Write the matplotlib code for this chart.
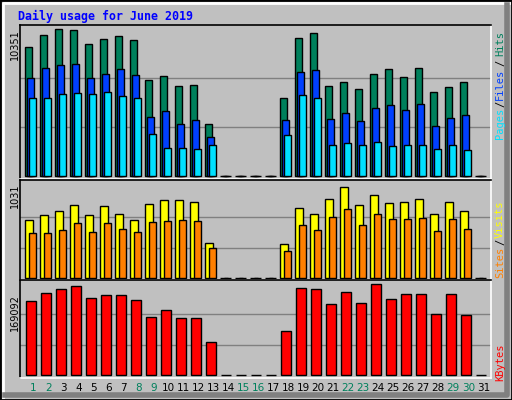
import matplotlib.pyplot as plt
import numpy as np

days = list(range(1, 32))
hits = [9060, 9930, 10351, 10300, 9290, 9620, 9840, 9550, 6740, 7020, 6320, 6390, 3640,
        0, 0, 0, 0,
        5470, 9700, 10050, 6320, 6600, 6100, 7160, 7510, 6950, 7580, 5890, 6250, 6600, 0]
files = [6880, 7580, 7790, 7870, 6880, 7160, 7510, 7090, 4130, 4560, 3640, 3920, 2720,
         0, 0, 0, 0,
         3920, 7300, 7440, 3990, 4410, 3850, 4770, 4980, 4630, 5050, 3500, 4060, 4270, 0]
pages = [5470, 5470, 5750, 5820, 5750, 5890, 5610, 5470, 2940, 1950, 1950, 1880, 2160,
         0, 0, 0, 0,
         2870, 5680, 5470, 2160, 2300, 2160, 2370, 2090, 2160, 2160, 1880, 2160, 1810, 0]
visits = [651, 707, 752, 819, 707, 808, 718, 651, 830, 875, 875, 863, 394,
          0, 0, 0, 0,
          383, 785, 718, 886, 1031, 819, 942, 852, 863, 886, 718, 863, 752, 0]
sites = [506, 506, 540, 618, 517, 618, 551, 517, 629, 640, 651, 640, 338,
         0, 0, 0, 0,
         305, 595, 540, 685, 774, 595, 718, 662, 662, 674, 528, 662, 551, 0]
kbytes = [137600, 152400, 159800, 165400, 143200, 148700, 148700, 139500, 108000, 120900,
          106100, 106100, 61700, 0, 0, 0, 0,
          82000, 161700, 159800, 132000, 154300, 133900, 169092, 141300, 150600, 150600,
          113500, 150600, 111700, 0]
weekend = [1, 2, 8, 9, 15, 16, 22, 23, 29, 30]

BG = "#C0C0C0"
W, H = 512, 400
fig = plt.figure(figsize=(W / 100, H / 100), dpi=100, facecolor=BG)


def px_axes(y0, y1):
    return fig.add_axes([20 / W, 1 - y1 / H, (490.7 - 20) / W, (y1 - y0) / H])


def style(ax, top):
    ax.set_facecolor(BG)
    ax.set_xlim(1 - 13.3 / 15, 1 + (490.7 - 33.3) / 15)
    ax.set_ylim(0, top * 176 / 147)
    ax.set_xticks([])
    ax.set_yticks([top / 3, top * 2 / 3])
    ax.set_yticklabels([])
    ax.tick_params(length=0)
    ax.grid(axis="y", color="#808080", lw=1)
    ax.set_axisbelow(True)
    for s in ["top", "left"]:
        ax.spines[s].set_color("black")
    for s in ["bottom", "right"]:
        ax.spines[s].set_color("white")
    for s in ax.spines.values():
        s.set_linewidth(1.2)


x = np.array(days)
ek = dict(edgecolor="black", linewidth=1.0, align="edge")

ax1 = px_axes(25, 179)
style(ax1, max(hits))
ax1.set_ylim(0, max(hits) * 151 / 147)
ax1.bar(x - 0.533, hits, 0.467, color="#00805C", **ek)
ax1.bar(x - 0.4, files, 0.467, color="#0040FF", **ek)
ax1.bar(x - 0.267, pages, 0.467, color="#00E0FF", **ek)

ax2 = px_axes(180, 280)
style(ax2, max(visits))
ax2.set_ylim(0, max(visits) * 99 / 92.3)
ax2.bar(x - 0.533, visits, 0.53, color="#FFFF00", **ek)
ax2.bar(x - 0.267, sites, 0.467, color="#FF8000", **ek)

ax3 = px_axes(280, 378)
style(ax3, max(kbytes))
ax3.set_ylim(-max(kbytes) * 2.5 / 91.3, max(kbytes) * 95 / 91.3)
ax3.bar(x - 0.467, kbytes, 0.667, color="#FF0000", **ek)
for ax in (ax1, ax2):
    ax.set_ylim(-ax.get_ylim()[1] * 0.02, ax.get_ylim()[1])

for d in days:
    ax3.text(d, -0.1, str(d), transform=ax3.get_xaxis_transform(), ha="center", va="center",
             fontsize=7.5, color="#00805C" if d in weekend else "black")


def ftxt(px, py, s, **kw):
    fig.text(px / W, 1 - py / H, s, **kw)


ftxt(18, 16, "Daily usage for June 2019", fontsize=8.4, family="DejaVu Sans Mono",
     weight="bold", color="#0000FF", va="center")
ftxt(15, 45, f"{max(hits)}", fontsize=7, rotation=90, ha="center", va="center")
ftxt(15, 196, f"{max(visits)}", fontsize=7, rotation=90, ha="center", va="center")
ftxt(15, 313, f"{max(kbytes)}", fontsize=7, rotation=90, ha="center", va="center")

mono = dict(fontsize=7.5, family="DejaVu Sans Mono", rotation=90, ha="center", va="center")
ftxt(500, 44, "Hits", color="#00805C", **mono)
ftxt(500, 63, "/", color="black", **mono)
ftxt(500, 84, "Files", color="#0040FF", **mono)
ftxt(500, 104, "/", color="black", **mono)
ftxt(500, 123, "Pages", color="#00E0FF", **mono)
ftxt(500, 219, "Visits", color="#FFFF00", **mono)
ftxt(500, 242, "/", color="black", **mono)
ftxt(500, 262, "Sites", color="#FF8000", **mono)
ftxt(500, 362, "KBytes", color="#FF0000", **mono)

# frame with bevel
fig.add_artist(plt.Line2D([3 / W, 3 / W, 1 - 3 / W], [3 / H, 1 - 3 / H, 1 - 3 / H],
                          transform=fig.transFigure, color="white", lw=2))
fig.add_artist(plt.Line2D([5 / W, 1 - 5 / W, 1 - 5 / W], [5 / H, 5 / H, 1 - 5 / H],
                          transform=fig.transFigure, color="#808080", lw=4))
fig.add_artist(plt.Rectangle((0, 0), 1, 1, transform=fig.transFigure, fill=False,
                             edgecolor="black", lw=2))

fig.savefig("out.png", dpi=100, facecolor=BG)
